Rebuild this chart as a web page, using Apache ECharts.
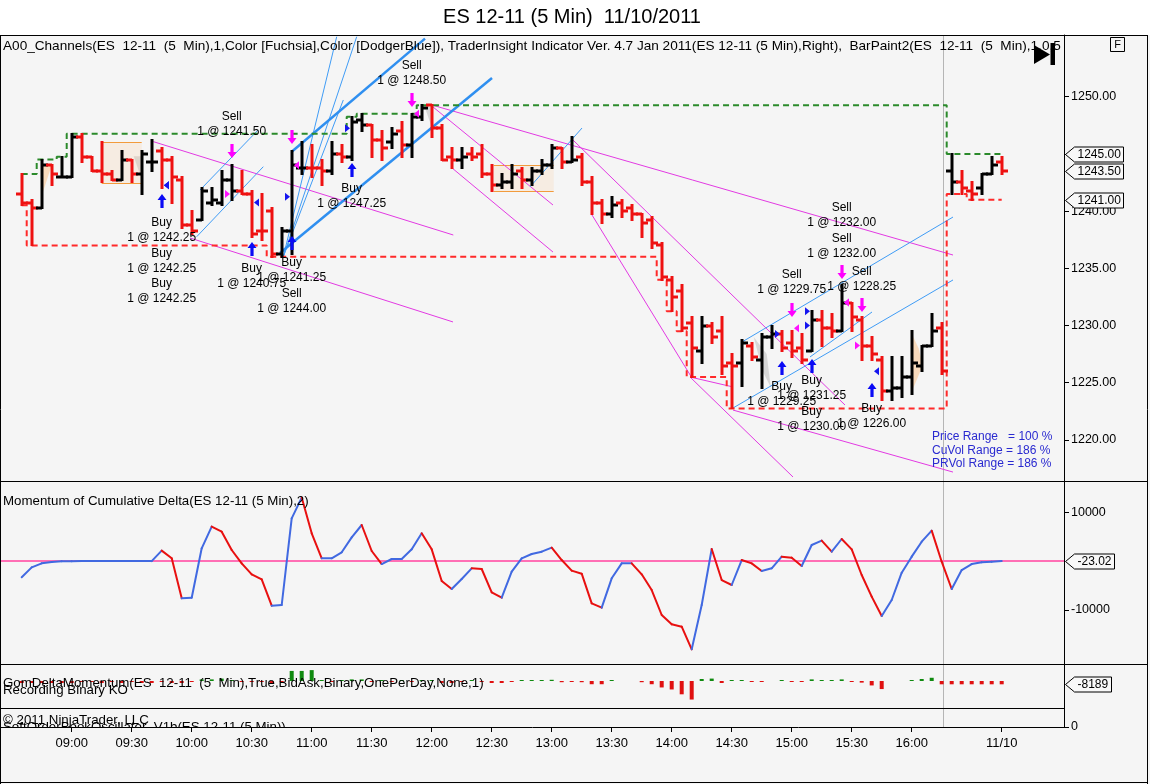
<!DOCTYPE html>
<html>
<head>
<meta charset="utf-8">
<title>ES 12-11 (5 Min) 11/10/2011</title>
<script src="https://cdn.jsdelivr.net/npm/echarts@6.0.0/dist/echarts.min.js"></script>
<style>
html,body{margin:0;padding:0;background:#ffffff;}
#chart{width:1150px;height:784px;}
</style>
</head>
<body>
<div id="chart"></div>
<script>
// ================= DATA =================
// 5-minute bars, index 0 = 08:35 ... index 92 = 16:15, then next session (93..98)
const barOpen = [
1241.5,1240.75,1240.25,1244.0,1243.0,1243.0,1246.5,1244.75,1243.5,1243.25,
1242.75,1244.5,1243.25,1244.25,1245.25,1244.5,1242.75,1238.75,1239.25,1240.75,
1240.75,1242.75,1241.75,1241.5,1238.25,1240.0,1236.25,1238.25,1243.75,1243.75,
1243.75,1243.5,1245.0,1244.75,1248.0,1247.5,1246.25,1246.0,1247.0,1245.75,
1248.25,1249.25,1247.25,1244.75,1244.5,1245.0,1245.0,1243.25,1242.25,1242.5,
1243.5,1242.75,1243.5,1244.0,1245.5,1244.25,1244.75,1242.5,1240.75,1239.75,
1240.75,1240.25,1239.75,1239.25,1237.0,1234.0,1233.0,1230.25,1227.75,1230.0,
1229.5,1226.75,1226.75,1228.25,1227.0,1229.0,1229.25,1228.5,1228.0,1227.75,
1230.5,1229.75,1229.5,1232.0,1230.5,1228.25,1227.0,1224.25,1224.5,1225.5,
1226.5,1228.25,1229.75,1243.5,1242.5,1241.75,1242.0,1243.25,1244.25];
const barHigh = [
1243.25,1241.0,1244.5,1244.0,1244.75,1246.75,1246.75,1244.75,1246.0,1243.5,
1245.25,1244.5,1245.25,1246.25,1245.5,1244.75,1243.0,1240.0,1242.0,1242.0,
1243.5,1244.0,1243.5,1241.75,1241.5,1240.25,1238.5,1245.25,1246.0,1245.75,
1244.5,1246.0,1245.75,1248.25,1248.5,1247.5,1247.0,1247.25,1247.75,1248.5,
1249.25,1249.25,1247.5,1245.5,1245.5,1245.5,1245.75,1244.0,1243.25,1244.0,
1243.75,1243.75,1244.5,1245.75,1245.5,1246.5,1245.0,1243.0,1241.0,1241.25,
1241.0,1240.5,1239.75,1239.5,1237.25,1234.25,1233.5,1230.75,1230.75,1230.25,
1230.75,1227.5,1228.75,1228.5,1229.25,1230.0,1229.5,1229.5,1229.25,1231.25,
1231.25,1231.0,1233.5,1232.0,1230.75,1229.0,1227.25,1227.25,1227.25,1229.5,
1228.25,1231.0,1230.25,1245.0,1243.5,1242.5,1243.25,1244.75,1244.75];
const barLow = [
1240.5,1237.0,1240.25,1242.25,1243.0,1243.0,1244.25,1243.5,1242.5,1242.75,
1242.75,1242.5,1241.5,1243.5,1242.0,1240.75,1238.5,1238.0,1239.25,1240.5,
1240.5,1241.0,1241.5,1237.75,1237.5,1236.0,1236.0,1236.25,1243.25,1243.0,
1242.25,1243.25,1244.25,1244.5,1247.0,1244.75,1244.5,1245.5,1244.75,1244.75,
1248.0,1246.5,1244.5,1243.75,1243.75,1244.5,1243.0,1241.75,1242.0,1242.0,
1242.0,1242.25,1243.25,1243.75,1243.75,1244.25,1242.25,1239.75,1239.0,1239.5,
1239.5,1239.25,1237.75,1236.75,1234.0,1231.25,1229.5,1225.5,1226.75,1228.5,
1225.75,1222.75,1224.75,1227.0,1224.5,1228.0,1227.75,1227.25,1226.75,1227.75,
1228.25,1229.0,1229.5,1229.5,1227.0,1227.0,1223.5,1223.5,1223.75,1224.0,
1226.0,1228.25,1225.75,1241.5,1241.5,1241.0,1241.5,1243.25,1243.25];
const barClose = [
1240.75,1240.25,1244.0,1243.25,1243.0,1246.5,1244.75,1243.5,1243.25,1242.75,
1244.5,1243.25,1245.0,1244.25,1244.5,1243.0,1238.75,1238.25,1241.75,1241.0,
1242.75,1241.75,1241.5,1238.0,1238.25,1236.25,1238.25,1244.0,1243.75,1243.75,
1243.5,1245.0,1244.75,1247.75,1247.5,1246.25,1245.5,1246.75,1245.75,1248.25,
1249.0,1247.25,1244.5,1244.5,1244.75,1244.75,1243.25,1242.25,1242.5,1243.25,
1242.75,1243.5,1244.0,1245.5,1244.25,1244.5,1242.5,1240.75,1239.75,1240.5,
1240.0,1239.75,1239.0,1237.25,1234.25,1232.5,1229.75,1228.0,1230.0,1229.0,
1226.5,1226.5,1228.5,1227.25,1229.0,1229.25,1228.0,1227.75,1227.0,1230.5,
1229.75,1229.5,1232.0,1230.75,1228.25,1227.5,1224.25,1224.5,1225.5,1226.75,
1228.25,1229.5,1226.0,1242.5,1242.0,1241.5,1243.25,1244.0,1243.5];
// BarPaint colouring: R = red, K = black
const barPaint = [
'R','R','K','R','K','K','R','R','R','R',
'K','R','K','K','R','R','R','R','K','K',
'K','K','R','R','R','R','K','K','K','R',
'R','K','R','K','K','R','R','K','R','K',
'K','R','R','R','K','R','R','R','K','K',
'R','K','K','K','R','K','R','R','R','K',
'R','R','R','R','R','R','R','R','K','R',
'R','R','K','R','K','K','R','R','R','K',
'R','R','K','R','R','R','R','K','K','K',
'K','K','R','K','R','R','K','K','R'];
const sessionStart = 93;      // first bar of the new session
const sessionBreakAt = 92.1;  // grey session separator (bar index units)

// x-axis tick labels (bar index -> label)
const xTickIdx    = [5,11,17,23,29,35,41,47,53,59,65,71,77,83,89,98];
const xTickLabels = ['09:00','09:30','10:00','10:30','11:00','11:30','12:00','12:30','13:00','13:30','14:00','14:30','15:00','15:30','16:00','11/10'];

// price axis
const priceTicks = [1220,1225,1230,1235,1240,1245,1250];
const priceTags  = [1245.00,1243.50,1241.00];

// Momentum of Cumulative Delta
const momentum = [
-3340,-1300,-480,-200,-70,-30,-23,-23,-23,-23,
-23,-23,-23,-23,2120,550,-7650,-7520,2600,7040,
6010,2260,-480,-2730,-3760,-9160,-9020,8750,13000,5670,
550,550,1780,4850,7380,2050,-620,410,410,2390,
5670,2390,-4100,-5740,-3690,-1500,-1640,-6420,-7520,-2190,
550,1430,1910,2730,200,-1980,-2600,-8680,-9570,-3550,
-480,-480,-2730,-5950,-11070,-12980,-13460,-18110,-9020,2460,
-3900,-4920,200,-480,-2050,-1500,890,680,-1030,3280,
4170,1910,4510,2390,-2870,-7310,-11280,-8000,-2390,890,
3960,6220,-140,-5740,-1850,-620,-270,-140,-23.02];
const momTicks = [10000,-10000];
const momTag = [-23.02];

// GomDeltaMomentum histogram
const gomDelta = [
-5000,-5000,-5000,-5000,-5000,-5000,-1500,-1500,-5000,-1500,
-5000,-1500,-5000,-5000,-1500,-5000,-5000,-1500,4000,4000,
6000,1500,-1500,-1500,-1500,-5000,-1500,25000,25000,27000,
1500,-1500,1500,4000,4000,-1500,1500,-1500,1500,-1500,
1500,1500,-5000,-5000,-1500,1500,-1500,-5000,-5000,-1500,
1500,1500,1500,3000,-3000,-1500,-3000,-8000,-8000,1500,
null,null,-3000,-8000,-16000,-21000,-33000,-46000,5000,6000,
-5000,1500,1500,-1500,-1500,null,1500,-1500,-1500,4000,
1500,1500,4000,-1500,-4000,-11000,-20000,null,null,1500,
5000,8000,-8189,-8189,-8189,-8189,-8189,-8189,-8189];
const gomTag = [-8189];
const oscTicks = [0];

// executions
const tradeBarIdx  = [14,14,14,21,23,27,27,33,39,77,82,82,84,76,79,79,85];
const tradeSide    = ['Buy','Buy','Buy','Sell','Buy','Buy','Sell','Buy','Sell','Sell','Sell','Sell','Sell','Buy','Buy','Buy','Buy'];
const tradePrice   = [1242.25,1242.25,1242.25,1241.50,1240.75,1241.25,1244.00,1247.25,1248.50,1229.75,1232.00,1232.00,1228.25,1229.25,1231.25,1230.00,1226.00];
const tradeLabelAt = [1238.30,1235.59,1232.97,1247.57,1234.28,1234.81,1232.10,1241.28,1252.03,1233.76,1239.62,1236.91,1234.02,1224.01,1224.49,1221.78,1222.09];
const tradeMarkLeft= [0,0,0,1,0,1,0,1,0,0,0,0,1,1,1,1,0];
const buyArrowIdx  = [14,23,27,33,76,79,85];
const buyArrowAt   = [1240.88,1236.69,1237.21,1243.59,1226.28,1226.46,1224.36];
const sellArrowIdx = [21,27,39,77,82,84];
const sellArrowAt  = [1245.25,1246.48,1249.71,1231.35,1234.67,1231.79];

// channel lines  [barIdx1, price1, barIdx2, price2]
const fuchsiaSegs = [
 [13.16,1246.07,43.16,1237.91],
 [16.83,1237.65,43.13,1230.31],
 [41.03,1249.27,93.13,1236.16],
 [41.13,1249.10,53.13,1240.53],
 [43.03,1243.77,53.13,1236.42],
 [55.13,1246.21,82.33,1223.05],
 [57.03,1239.66,67.03,1225.41],
 [66.83,1225.50,77.13,1216.76],
 [66.83,1225.50,71.13,1224.63],
 [71.13,1222.61,93.13,1217.19]];
const dodgerThin = [
 [17.83,1241.84,23.63,1247.08],
 [17.5,1237.76,24.16,1243.88],
 [26.16,1236.01,31.5,1255.24],
 [26.16,1236.01,33.5,1255.24],
 [26.16,1236.01,32.16,1249.71],
 [50.83,1242.11,56.03,1247.26],
 [71.13,1222.79,93.13,1233.98],
 [72.03,1228.56,93.13,1239.48],
 [78.83,1227.25,85.03,1231.18]];
const dodgerThick = [
 [25.83,1236.33,47.03,1251.63],
 [27.0,1245.19,40.33,1255.07]];

// consolidation boxes
const boxLeft   = [8.0,47.2];
const boxRight  = [12.0,53.2];
const boxTop    = [1246.07,1244.03];
const boxBottom = [1242.48,1241.78];
// bar-paint shading wedges (4 points each: idx,price pairs)
const shadePeach = [
 [2.1,1244.0, 3.0,1244.0, 2.1,1241.6, 2.1,1241.6],
 [89.1,1229.1, 89.7,1228.0, 90.1,1226.5, 89.1,1224.4]];
const shadeGrey = [
 [40.3,1249.1, 41.1,1249.1, 41.1,1247.1, 41.1,1247.1],
 [73.2,1229.0, 74.5,1227.5, 74.9,1224.6, 74.1,1226.0],
 [11.2,1244.8, 12.1,1244.8, 12.1,1242.5, 12.1,1242.5]];

// panel study captions
const captionPrice = 'A00_Channels(ES  12-11  (5  Min),1,Color [Fuchsia],Color [DodgerBlue]), TraderInsight Indicator Ver. 4.7 Jan 2011(ES 12-11 (5 Min),Right),  BarPaint2(ES  12-11  (5  Min),1,0,5,False)';
const captionMom = 'Momentum of Cumulative Delta(ES 12-11 (5 Min),2)';
const captionGom = 'GomDeltaMomentum(ES  12-11  (5  Min),True,BidAsk,Binary,OnePerDay,None,1)';
const captionOsc = 'SoftOrderBookOscillator_V1b(ES 12-11 (5 Min))';

// ================= CHART =================
const FONT = '"Liberation Sans", Arial, sans-serif';
const F12 = '12px ' + FONT;
const F13 = '13.3px ' + FONT;
const RED = '#ee1111', BLK = '#000000';
const MOM_BLUE = '#4169e1', MOM_RED = '#e81010';
const _ctx = document.createElement('canvas').getContext('2d');
_ctx.font = F12;
const tw = t => _ctx.measureText(t).width;

// running high / low per session
const runMax = [], runMin = [];
(function(){
  let mx = -Infinity, mn = Infinity;
  for (let i = 0; i < barHigh.length; i++) {
    if (i === sessionStart) { mx = -Infinity; mn = Infinity; }
    mx = Math.max(mx, barHigh[i]); mn = Math.min(mn, barLow[i]);
    runMax.push([i, mx]); runMin.push([i, mn]);
  }
})();

const GL = 1, GW = 1063;
const XMIN = -2.07, XMAX = XMIN + GW / 10;

function segRenderer(color, width) {
  return function (params, api) {
    const a = api.coord([api.value(0), api.value(1)]);
    const b = api.coord([api.value(2), api.value(3)]);
    return {type:'line', shape:{x1:a[0],y1:a[1],x2:b[0],y2:b[1]}, style:{stroke:color, lineWidth:width}};
  };
}
function polyRenderer(fill) {
  return function (params, api) {
    const pts = [];
    for (let k = 0; k < 4; k++) pts.push(api.coord([api.value(2*k), api.value(2*k+1)]));
    return {type:'polygon', shape:{points:pts}, style:{fill:fill}};
  };
}
function renderBox(params, api) {
  const a = api.coord([api.value(0), api.value(2)]);
  const b = api.coord([api.value(1), api.value(3)]);
  const y1 = Math.round(a[1]) + 0.5, y2 = Math.round(b[1]) + 0.5;
  return {type:'group', children:[
    {type:'rect', shape:{x:a[0], y:y1, width:b[0]-a[0], height:y2-y1}, style:{fill:'rgba(250,205,160,0.22)'}},
    {type:'line', shape:{x1:a[0],y1:y1,x2:b[0],y2:y1}, style:{stroke:'#f29b3c', lineWidth:1}},
    {type:'line', shape:{x1:a[0],y1:y2,x2:b[0],y2:y2}, style:{stroke:'#f29b3c', lineWidth:1}}
  ]};
}
function renderOHLC(params, api) {
  const i = api.value(0);
  const col = barPaint[params.dataIndex] === 'R' ? RED : BLK;
  const ph = api.coord([i, api.value(2)]), pl = api.coord([i, api.value(3)]);
  const po = api.coord([i, api.value(1)]), pc = api.coord([i, api.value(4)]);
  const x = Math.round(ph[0]);
  const st = {stroke:col, lineWidth:3};
  return {type:'group', children:[
    {type:'line', shape:{x1:x, y1:Math.round(ph[1])-1, x2:x, y2:Math.round(pl[1])+1}, style:st},
    {type:'line', shape:{x1:x-6, y1:Math.round(po[1]), x2:x, y2:Math.round(po[1])}, style:st},
    {type:'line', shape:{x1:x, y1:Math.round(pc[1]), x2:x+6, y2:Math.round(pc[1])}, style:st}
  ]};
}
function renderExec(params, api) {
  const k = params.dataIndex;
  const p = api.coord([api.value(0), api.value(1)]);
  const x = Math.round(p[0]), y = p[1];
  const col = tradeSide[k] === 'Buy' ? '#1515f0' : '#ff10ff';
  const pts = tradeMarkLeft[k]
    ? [[x-7,y-4],[x-2,y],[x-7,y+4]]
    : [[x+7,y-4],[x+2,y],[x+7,y+4]];
  return {type:'polygon', shape:{points:pts}, style:{fill:col}};
}
function arrowRenderer(up, color) {
  return function (params, api) {
    const p = api.coord([api.value(0), api.value(1)]);
    const x = Math.round(p[0]), y = p[1], s = up ? 1 : -1;
    const pts = [[x, y-7*s],[x+4.5, y-1*s],[x+1.6, y-1*s],[x+1.6, y+7*s],[x-1.6, y+7*s],[x-1.6, y-1*s],[x-4.5, y-1*s]];
    return {type:'polygon', shape:{points:pts}, style:{fill:color}};
  };
}
function renderTradeLabel(params, api) {
  const k = params.dataIndex;
  const p = api.coord([api.value(0), api.value(1)]);
  return {type:'text', x:p[0], y:p[1], style:{
    text: tradeSide[k] + '\n1 @ ' + tradePrice[k].toFixed(2),
    font:F12, fill:'#000', align:'center', verticalAlign:'middle', lineHeight:15}};
}
function renderMom(params, api) {
  const i = api.value(0);
  if (params.dataIndex === 0) return {type:'group', children:[]};
  const a = api.coord([i-1, api.value(1)]), b = api.coord([i, api.value(2)]);
  const col = api.value(2) >= api.value(1) ? MOM_BLUE : MOM_RED;
  return {type:'line', shape:{x1:a[0],y1:a[1],x2:b[0],y2:b[1]}, style:{stroke:col, lineWidth:2, lineCap:'round'}};
}
function vLine(color) {
  return function (params, api) {
    const x = Math.round(api.coord([api.value(0), api.value(1)])[0]) + 0.5;
    const cs = params.coordSys;
    return {type:'line', shape:{x1:x, y1:cs.y, x2:x, y2:cs.y + cs.height}, style:{stroke:color, lineWidth:1}};
  };
}
function hLine(color, width) {
  return function (params, api) {
    const y = api.coord([api.value(0), api.value(1)])[1];
    const cs = params.coordSys;
    return {type:'line', shape:{x1:cs.x, y1:y, x2:cs.x + cs.width, y2:y}, style:{stroke:color, lineWidth:width}};
  };
}
// caption drawn inside a panel and clipped to it
function renderCaption(params, api) {
  const cs = params.coordSys;
  return {type:'text', x:cs.x + 2, y:cs.y + 13, style:{text:captionOsc, font:F13, fill:'#000', align:'left', verticalAlign:'top'}};
}
function tagRenderer(fmt) {
  return function (params, api) {
    const v = api.value(1);
    const y = Math.round(api.coord([api.value(0), v])[1]) + 0.5;
    const cs = params.coordSys;
    const x0 = cs.x + cs.width + 0.5;
    const txt = fmt(v);
    const w = Math.round(tw(txt)) + 6;
    const h = 15;
    return {type:'group', children:[
      {type:'polygon', shape:{points:[[x0+1,y],[x0+10,y-h/2],[x0+10+w,y-h/2],[x0+10+w,y+h/2],[x0+10,y+h/2]]},
        style:{fill:'#f8f8f8', stroke:'#000', lineWidth:1}},
      {type:'text', x:x0+13, y:y+0.5, style:{text:txt, font:F12, fill:'#000', align:'left', verticalAlign:'middle'}}
    ]};
  };
}

const hiddenX = k => ({type:'value', gridIndex:k, min:XMIN, max:XMAX, show:false});
const yBase = (k, min, max, ticks, fmt) => ({
  type:'value', gridIndex:k, position:'right', min:min, max:max,
  axisLine:{show:true, onZero:false, lineStyle:{color:'#000', width:1}},
  axisTick:{show:ticks.length > 0, customValues:ticks, length:5, lineStyle:{color:'#000'}},
  axisLabel:{show:ticks.length > 0, customValues:ticks, formatter:fmt, color:'#000', fontSize:12.5, fontFamily:FONT, margin:7},
  splitLine:{show:false}
});

const chart = echarts.init(document.getElementById('chart'), null, {renderer:'canvas'});
const option = {
  animation:false,
  backgroundColor:'#f5f5f5',
  grid:[
    {left:GL, width:GW, top:35, height:446},
    {left:GL, width:GW, top:481, height:183},
    {left:GL, width:GW, top:664, height:44},
    {left:GL, width:GW, top:708, height:19}
  ],
  xAxis:[
    hiddenX(0), hiddenX(1), hiddenX(2),
    {type:'value', gridIndex:3, min:XMIN, max:XMAX, position:'bottom',
     axisLine:{show:true, onZero:false, lineStyle:{color:'#000', width:1}},
     axisTick:{show:true, customValues:xTickIdx, length:5, lineStyle:{color:'#000'}},
     axisLabel:{show:true, customValues:xTickIdx, color:'#000', fontSize:13, fontFamily:FONT, margin:10,
       formatter:v => { const j = xTickIdx.indexOf(Math.round(v)); return j >= 0 ? xTickLabels[j] : ''; }},
     splitLine:{show:false}}
  ],
  yAxis:[
    yBase(0, 1216.41, 1255.39, priceTicks, v => v.toFixed(2)),
    yBase(1, -21115, 16400, momTicks, v => String(v)),
    yBase(2, -66960, 42160, [], v => ''),
    yBase(3, 0, 1, oscTicks, v => String(v))
  ],
  series:[
    // ---- price panel ----
    {type:'custom', name:'peach', xAxisIndex:0, yAxisIndex:0, data:shadePeach, encode:{x:[0,2,4,6], y:[1,3,5,7]},
     renderItem:polyRenderer('rgba(250,200,150,0.6)'), silent:true, z:1, clip:true},
    {type:'custom', name:'grey', xAxisIndex:0, yAxisIndex:0, data:shadeGrey, encode:{x:[0,2,4,6], y:[1,3,5,7]},
     renderItem:polyRenderer('rgba(180,180,180,0.45)'), silent:true, z:1, clip:true},
    {type:'custom', name:'boxes', xAxisIndex:0, yAxisIndex:0,
     data:boxLeft.map((l,k) => [l, boxRight[k], boxTop[k], boxBottom[k]]), encode:{x:[0,1], y:[2,3]},
     renderItem:renderBox, silent:true, z:1, clip:true},
    {type:'custom', name:'fuchsia', xAxisIndex:0, yAxisIndex:0, data:fuchsiaSegs, encode:{x:[0,2], y:[1,3]},
     renderItem:segRenderer('#e33ae3', 1), silent:true, z:2, clip:true},
    {type:'custom', name:'dodgerThin', xAxisIndex:0, yAxisIndex:0, data:dodgerThin, encode:{x:[0,2], y:[1,3]},
     renderItem:segRenderer('#3f9cf5', 1), silent:true, z:2, clip:true},
    {type:'custom', name:'dodgerThick', xAxisIndex:0, yAxisIndex:0, data:dodgerThick, encode:{x:[0,2], y:[1,3]},
     renderItem:segRenderer('#2f8ff0', 2.5), silent:true, z:2, clip:true},
    {type:'custom', name:'session0', xAxisIndex:0, yAxisIndex:0, data:[[sessionBreakAt, 1240]], encode:{x:0, y:1},
     renderItem:vLine('#b5b5b5'), silent:true, z:1},
    {type:'line', name:'highest', xAxisIndex:0, yAxisIndex:0, data:runMax, step:'middle', symbol:'none',
     lineStyle:{color:'#2b8a2b', width:2, type:[6,4]}, silent:true, z:3},
    {type:'line', name:'lowest', xAxisIndex:0, yAxisIndex:0, data:runMin, step:'middle', symbol:'none',
     lineStyle:{color:'#ff2a2a', width:2, type:[6,4]}, silent:true, z:3},
    {type:'custom', name:'bars', xAxisIndex:0, yAxisIndex:0,
     data:barOpen.map((o,i) => [i, o, barHigh[i], barLow[i], barClose[i]]), encode:{x:0, y:[1,2,3,4]},
     renderItem:renderOHLC, silent:true, z:4, clip:true},
    {type:'custom', name:'exec', xAxisIndex:0, yAxisIndex:0,
     data:tradeBarIdx.map((i,k) => [i, tradePrice[k]]), encode:{x:0, y:1},
     renderItem:renderExec, silent:true, z:5},
    {type:'custom', name:'buyArrows', xAxisIndex:0, yAxisIndex:0,
     data:buyArrowIdx.map((i,k) => [i, buyArrowAt[k]]), encode:{x:0, y:1},
     renderItem:arrowRenderer(true, '#0a0af5'), silent:true, z:6},
    {type:'custom', name:'sellArrows', xAxisIndex:0, yAxisIndex:0,
     data:sellArrowIdx.map((i,k) => [i, sellArrowAt[k]]), encode:{x:0, y:1},
     renderItem:arrowRenderer(false, '#ff00ff'), silent:true, z:6},
    {type:'custom', name:'tradeLabels', xAxisIndex:0, yAxisIndex:0,
     data:tradeBarIdx.map((i,k) => [i, tradeLabelAt[k]]), encode:{x:0, y:1},
     renderItem:renderTradeLabel, silent:true, z:7, clip:false},
    {type:'custom', name:'priceTags', xAxisIndex:0, yAxisIndex:0,
     data:priceTags.map(v => [98, v]), encode:{x:0, y:1},
     renderItem:tagRenderer(v => v.toFixed(2)), silent:true, z:8, clip:false},
    // ---- momentum panel ----
    {type:'custom', name:'zero', xAxisIndex:1, yAxisIndex:1, data:[[0, 0]], encode:{x:0, y:1},
     renderItem:hLine('#ff6fb5', 2), silent:true, z:2},
    {type:'custom', name:'session1', xAxisIndex:1, yAxisIndex:1, data:[[sessionBreakAt, 0]], encode:{x:0, y:1},
     renderItem:vLine('#b5b5b5'), silent:true, z:1},
    {type:'custom', name:'momentum', xAxisIndex:1, yAxisIndex:1,
     data:momentum.map((v,i) => [i, i > 0 ? momentum[i-1] : v, v]), encode:{x:0, y:[1,2]},
     renderItem:renderMom, silent:true, z:3, clip:true},
    {type:'custom', name:'momTag', xAxisIndex:1, yAxisIndex:1,
     data:momTag.map(v => [98, v]), encode:{x:0, y:1},
     renderItem:tagRenderer(v => v.toFixed(2)), silent:true, z:8, clip:false},
    // ---- GomDelta panel ----
    {type:'custom', name:'session2', xAxisIndex:2, yAxisIndex:2, data:[[sessionBreakAt, 0]], encode:{x:0, y:1},
     renderItem:vLine('#b5b5b5'), silent:true, z:1},
    {type:'bar', name:'gom', xAxisIndex:2, yAxisIndex:2, data:gomDelta.map((v,i) => [i, v]),
     barWidth:4, barMinHeight:1, silent:true, z:3,
     itemStyle:{color:p => (p.value[1] >= 0 ? '#0f8a0f' : '#e01010')}},
    {type:'custom', name:'gomTag', xAxisIndex:2, yAxisIndex:2,
     data:gomTag.map(v => [98, v]), encode:{x:0, y:1},
     renderItem:tagRenderer(v => String(v)), silent:true, z:8, clip:false},
    // ---- oscillator panel ----
    {type:'custom', name:'session3', xAxisIndex:3, yAxisIndex:3, data:[[sessionBreakAt, 0.5]], encode:{x:0, y:1},
     renderItem:vLine('#b5b5b5'), silent:true, z:1},
    {type:'custom', name:'oscCaption', xAxisIndex:3, yAxisIndex:3, data:[[0, 0.5]], encode:{x:0, y:1},
     renderItem:renderCaption, silent:true, z:5, clip:true}
  ],
  graphic:[
    {type:'rect', shape:{x:0, y:0, width:1150, height:35}, style:{fill:'#ffffff'}, z:-5, silent:true},
    {type:'text', x:572, y:17, z:20, silent:true, style:{text:'ES 12-11 (5 Min)  11/10/2011', font:'20px ' + FONT, fill:'#000', align:'center', verticalAlign:'middle'}},
    {type:'text', x:3, y:46, z:20, silent:true, style:{text:captionPrice, font:'13.6px ' + FONT, fill:'#000', verticalAlign:'middle', width:1061, overflow:'truncate', ellipsis:''}},
    {type:'text', x:3, y:501, z:20, silent:true, style:{text:captionMom, font:F13, fill:'#000', verticalAlign:'middle'}},
    {type:'text', x:3, y:683, z:20, silent:true, style:{text:captionGom, font:F13, fill:'#000', verticalAlign:'middle'}},
    {type:'text', x:3, y:690, z:20, silent:true, style:{text:'Recording Binary KO', font:F13, fill:'#000', verticalAlign:'middle'}},
    {type:'text', x:3, y:720, z:20, silent:true, style:{text:'\u00A9 2011 NinjaTrader, LLC', font:F13, fill:'#000', verticalAlign:'middle'}},
    {type:'text', x:932, y:437, z:20, silent:true, style:{text:'Price Range   = 100 %', font:F12, fill:'#2a2ad0', verticalAlign:'middle'}},
    {type:'text', x:932, y:451, z:20, silent:true, style:{text:'CuVol Range = 186 %', font:F12, fill:'#2a2ad0', verticalAlign:'middle'}},
    {type:'text', x:932, y:464, z:20, silent:true, style:{text:'PRVol Range = 186 %', font:F12, fill:'#2a2ad0', verticalAlign:'middle'}},
    // play-to-end icon and F button
    {type:'polygon', shape:{points:[[1034,45],[1034,64],[1050,54.5]]}, style:{fill:'#000'}, z:20, silent:true},
    {type:'rect', shape:{x:1050.5, y:43, width:4.5, height:22}, style:{fill:'#000'}, z:20, silent:true},
    {type:'rect', shape:{x:1110.5, y:37.5, width:14, height:14}, style:{fill:'#f5f5f5', stroke:'#000', lineWidth:1}, z:20, silent:true},
    {type:'text', x:1117.5, y:45, z:21, silent:true, style:{text:'F', font:'11px ' + FONT, fill:'#000', align:'center', verticalAlign:'middle'}},
    // frame and panel separators
    {type:'line', shape:{x1:0, y1:35.5, x2:1148, y2:35.5}, style:{stroke:'#000', lineWidth:1}, z:22, silent:true},
    {type:'line', shape:{x1:0.5, y1:35, x2:0.5, y2:784}, style:{stroke:'#000', lineWidth:1}, z:22, silent:true},
    {type:'line', shape:{x1:1147.5, y1:35, x2:1147.5, y2:784}, style:{stroke:'#000', lineWidth:1}, z:22, silent:true},
    {type:'line', shape:{x1:0, y1:782.5, x2:1148, y2:782.5}, style:{stroke:'#000', lineWidth:1}, z:22, silent:true},
    {type:'line', shape:{x1:0, y1:481.5, x2:1148, y2:481.5}, style:{stroke:'#000', lineWidth:1}, z:22, silent:true},
    {type:'line', shape:{x1:0, y1:664.5, x2:1148, y2:664.5}, style:{stroke:'#000', lineWidth:1}, z:22, silent:true},
    {type:'line', shape:{x1:0, y1:708.5, x2:1064, y2:708.5}, style:{stroke:'#000', lineWidth:1}, z:22, silent:true}
  ]
};
chart.setOption(option);
</script>
</body>
</html>
